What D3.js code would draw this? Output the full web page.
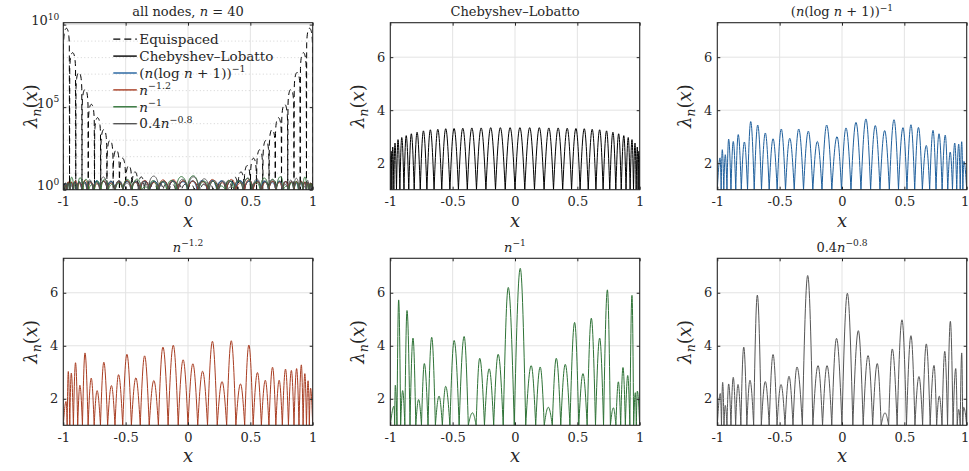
<!DOCTYPE html>
<html><head><meta charset="utf-8">
<script src="https://cdn.jsdelivr.net/npm/d3@7"></script>
<style>
body{margin:0;background:#fff}
text{fill:#262626}
svg text{font-family:"DejaVu Serif",serif;}
</style>
</head><body>
<svg id="c" width="969" height="471"></svg>
<script>
// ---------------- data ----------------
const xTicks = [-1, -0.5, 0, 0.5, 1];
const xTickLabels = ["-1", "-0.5", "0", "0.5", "1"];
const yTicks = [2, 4, 6];
const yTickLabels = ["2", "4", "6"];
const logTicks = [1, 1e5, 1e10];
const logTickExps = ["0", "5", "10"];
const logMinor = [1e1,1e2,1e3,1e4,1e6,1e7,1e8,1e9];

// Equispaced: lobe peak positions and peak heights
const equiX = [-0.975,-0.925,-0.875,-0.825,-0.775,-0.725,-0.675,-0.625,-0.575,-0.525,-0.475,-0.425,-0.375,-0.325,-0.275,-0.225,-0.175,-0.125,-0.075,-0.025,
                0.025,0.075,0.125,0.175,0.225,0.275,0.325,0.375,0.425,0.475,0.525,0.575,0.625,0.675,0.725,0.775,0.825,0.875,0.925,0.975];
const equiY = [6.0e9,2.0e8,1.26e7,1.2e6,1.48e5,2.3e4,4.4e3,980,263,81,29,12,6.0,3.7,2.8,2.4,2.24,2.14,2.09,2.09,
               2.09,2.09,2.14,2.24,2.4,2.8,3.7,6.0,12,29,81,263,980,4.4e3,2.3e4,1.48e5,1.2e6,1.26e7,2.0e8,6.0e9];

// Chebyshev-Lobatto
const chebX = [-0.99923,-0.99307,-0.98079,-0.96246,-0.93819,-0.90814,-0.87250,-0.83147,-0.78531,-0.73432,-0.67880,-0.61909,-0.55557,-0.48862,-0.41866,-0.34612,-0.27144,-0.19509,-0.11754,-0.03926,
                0.03926,0.11754,0.19509,0.27144,0.34612,0.41866,0.48862,0.55557,0.61909,0.67880,0.73432,0.78531,0.83147,0.87250,0.90814,0.93819,0.96246,0.98079,0.99307,0.99923];
const chebY = [2.26,2.45,2.61,2.76,2.89,2.97,3.04,3.11,3.17,3.22,3.26,3.28,3.30,3.31,3.32,3.33,3.33,3.34,3.34,3.34,
               3.34,3.34,3.34,3.33,3.33,3.32,3.31,3.30,3.28,3.26,3.22,3.17,3.11,3.04,2.97,2.89,2.76,2.61,2.45,2.26];

// (n(log n + 1))^-1 perturbation
const blueX = [-0.978,-0.960,-0.936,-0.909,-0.872,-0.832,-0.783,-0.732,-0.676,-0.615,-0.553,-0.487,-0.419,-0.347,-0.270,-0.198,-0.123,-0.040,
                0.032,0.112,0.192,0.267,0.342,0.417,0.489,0.553,0.613,0.676,0.730,0.778,0.828,0.868,0.904,0.936,0.960,0.978];
const blueY = [2.20,2.51,2.32,2.91,2.82,3.08,2.80,3.57,3.44,3.14,2.92,3.29,2.94,3.29,3.21,2.82,3.44,3.00,
               3.33,3.54,3.67,3.42,3.23,3.64,3.34,3.45,3.35,2.67,3.24,3.11,3.06,2.42,2.76,2.72,2.81,2.07];

// n^-1.2 perturbation
const redX = [-0.978,-0.960,-0.936,-0.902,-0.867,-0.826,-0.776,-0.729,-0.675,-0.614,-0.557,-0.490,-0.418,-0.348,-0.274,-0.201,-0.118,-0.039,
               0.039,0.117,0.196,0.273,0.347,0.421,0.488,0.557,0.620,0.678,0.731,0.782,0.829,0.871,0.909,0.937,0.963,0.983];
const redY = [1.90,3.03,2.97,3.36,2.51,3.73,2.78,2.31,3.38,2.50,2.91,3.68,2.79,3.62,2.69,3.95,4.02,3.47,
              3.32,3.04,4.17,2.65,4.19,2.56,4.03,2.99,2.70,3.19,2.70,3.12,3.07,3.14,3.28,2.95,2.68,2.40];

// n^-1 perturbation
const greenX = [-0.970,-0.960,-0.933,-0.901,-0.866,-0.818,-0.773,-0.727,-0.668,-0.609,-0.556,-0.488,-0.408,-0.341,-0.283,-0.207,-0.135,-0.054,
                 0.042,0.130,0.202,0.267,0.331,0.403,0.478,0.545,0.612,0.679,0.741,0.789,0.829,0.866,0.904,0.938,0.965,0.981];
const greenY = [1.72,2.51,5.73,2.31,5.33,4.29,1.97,3.33,4.32,2.10,2.47,4.20,4.35,1.47,3.53,3.13,3.68,6.20,
                6.92,3.25,3.20,1.68,3.53,3.30,4.88,2.95,5.04,4.29,6.11,1.66,2.64,3.18,2.88,5.90,2.23,2.29];

// 0.4 n^-0.8 perturbation
const grayX = [-0.976,-0.957,-0.936,-0.909,-0.872,-0.834,-0.788,-0.738,-0.679,-0.615,-0.553,-0.489,-0.425,-0.361,-0.275,-0.192,-0.120,-0.044,
                0.043,0.131,0.209,0.283,0.345,0.403,0.481,0.553,0.617,0.676,0.738,0.780,0.824,0.869,0.912,0.936,0.960,0.976];
const grayY = [2.20,2.62,1.75,2.56,2.81,2.54,3.95,2.70,5.91,2.65,3.67,2.54,2.85,3.20,6.65,3.25,3.25,4.28,
               5.98,4.57,3.63,3.33,1.47,3.88,4.98,4.38,2.84,4.07,3.26,2.10,3.79,4.92,3.14,1.60,3.73,1.68];

const colors = {equi:"#000000", cheb:"#000000", blue:"#1f5f9c", red:"#a83d22", green:"#2e7236", gray:"#555555"};

// ---------------- layout ----------------
const svg = d3.select("#c");
const colL = [63.3, 390.3, 717.3], PW = 249.4;
const rowT = [22.7, 258.3], PH = 167;
const FONT = 13;

function lobePoints(xs, ys){
  const pts = [], S = 14, n = xs.length;
  for(let i=0;i<n;i++){
    const a = i===0 ? -1 : (xs[i-1]+xs[i])/2;
    const b = i===n-1 ? 1 : (xs[i]+xs[i+1])/2;
    const p = xs[i], v = ys[i];
    for(let k=0;k<=S;k++){const t=k/S; pts.push([a+(p-a)*t, 1+(v-1)*Math.sin(t*Math.PI/2)]);}
    for(let k=1;k<=S;k++){const t=k/S; pts.push([p+(b-p)*t, 1+(v-1)*Math.cos(t*Math.PI/2)]);}
  }
  return pts;
}

function addMath(sel, parts, size){
  let shift = 0;
  parts.forEach(([t, s])=>{
    const ts = sel.append("tspan").text(t);
    let target = 0, fs = size;
    if(s.startsWith("sup")){ target = -0.42*size; fs = size*0.7; }
    if(s.startsWith("sub")){ target = 0.22*size; fs = size*0.7; }
    ts.attr("font-size", fs).attr("dy", target - shift);
    shift = target;
    if(s === "i" || s.endsWith("i")) ts.attr("font-style","italic");
  });
}

const panels = [
  {c:0, r:0, log:true, title:[["all nodes, ",""],["n","i"],[" = 40",""]],
   series:[["equi",equiX,equiY,true],["cheb",chebX,chebY],["blue",blueX,blueY],["red",redX,redY],["green",greenX,greenY],["gray",grayX,grayY]]},
  {c:1, r:0, title:[["Chebyshev–Lobatto",""]], series:[["cheb",chebX,chebY]]},
  {c:2, r:0, title:[["(",""],["n","i"],["(log ",""],["n","i"],[" + 1))",""],["−1","sup"]], series:[["blue",blueX,blueY]]},
  {c:0, r:1, title:[["n","i"],["−1.2","sup"]], series:[["red",redX,redY]]},
  {c:1, r:1, title:[["n","i"],["−1","sup"]], series:[["green",greenX,greenY]]},
  {c:2, r:1, title:[["0.4",""],["n","i"],["−0.8","sup"]], series:[["gray",grayX,grayY]]}
];

panels.forEach((P, idx)=>{
  const L = colL[P.c], T = rowT[P.r];
  const g = svg.append("g").attr("transform",`translate(${L},${T})`);
  const x = d3.scaleLinear().domain([-1,1]).range([0,PW]);
  const y = P.log ? d3.scaleLog().domain([1, Math.pow(10,10.115)]).range([PH,0])
                  : d3.scaleLinear().domain([1,7.3]).range([PH,0]);

  // grid
  const grid = g.append("g");
  grid.selectAll(".gx").data(xTicks.slice(1,-1)).enter().append("line")
    .attr("x1",d=>x(d)).attr("x2",d=>x(d)).attr("y1",0).attr("y2",PH)
    .attr("stroke","#e3e3e3").attr("stroke-width",1);
  const gy = P.log ? logTicks : yTicks;
  grid.selectAll(".gy").data(gy).enter().append("line")
    .attr("x1",0).attr("x2",PW).attr("y1",d=>y(d)).attr("y2",d=>y(d))
    .attr("stroke","#e3e3e3").attr("stroke-width",1);
  if(P.log){
    grid.selectAll(".gm").data(logMinor).enter().append("line")
      .attr("x1",0).attr("x2",PW).attr("y1",d=>y(d)).attr("y2",d=>y(d))
      .attr("stroke","#c8c8c8").attr("stroke-width",0.8).attr("stroke-dasharray","1,2.5");
  }

  // curves
  const cid = "clip"+idx;
  g.append("clipPath").attr("id",cid).append("rect").attr("width",PW).attr("height",PH);
  const plot = g.append("g").attr("clip-path",`url(#${cid})`);
  const line = d3.line().x(d=>x(d[0])).y(d=>y(d[1]));
  P.series.forEach(([key, xs, ys, dashed])=>{
    plot.append("path").datum(lobePoints(xs, ys))
      .attr("d", line).attr("fill","none")
      .attr("stroke", colors[key]).attr("stroke-width", 1)
      .attr("stroke-dasharray", dashed ? "6,4" : null);
  });

  // axes
  const ax = g.append("g").attr("transform",`translate(0,${PH})`)
    .call(d3.axisBottom(x).tickValues(xTicks).tickFormat((d,i)=>xTickLabels[i]).tickSize(-3).tickSizeOuter(0).tickPadding(7));
  if(P.c === 2) ax.selectAll(".tick").filter(d=>d===1).select("text").attr("dx",-2);
  const axT = g.append("g").call(d3.axisTop(x).tickValues(xTicks).tickFormat("").tickSize(-3).tickSizeOuter(0));
  let ay, ayR;
  if(P.log){
    ay = g.append("g").call(d3.axisLeft(y).tickValues(logTicks).tickFormat("").tickSize(-3).tickSizeOuter(0));
    ay.selectAll(".tick").each(function(d,i){
      const t = d3.select(this).append("text").attr("x",-4).attr("dy","0.32em")
        .attr("text-anchor","end").attr("font-size",FONT);
      addMath(t, [["10",""],[logTickExps[i],"sup"]], FONT);
    });
    ayR = g.append("g").attr("transform",`translate(${PW},0)`).call(d3.axisRight(y).tickValues(logTicks).tickFormat("").tickSize(-3).tickSizeOuter(0));
  } else {
    ay = g.append("g").call(d3.axisLeft(y).tickValues(yTicks).tickFormat((d,i)=>yTickLabels[i]).tickSize(-3).tickSizeOuter(0).tickPadding(5));
    ayR = g.append("g").attr("transform",`translate(${PW},0)`).call(d3.axisRight(y).tickValues(yTicks).tickFormat("").tickSize(-3).tickSizeOuter(0));
  }
  [ax,axT,ay,ayR].forEach(a=>{
    a.attr("font-family", null);
    a.select(".domain").remove();
    a.selectAll("line").attr("stroke","#262626");
    a.selectAll("text").attr("font-size",FONT).attr("fill","#262626");
  });
  // frame
  g.append("rect").attr("width",PW).attr("height",PH).attr("fill","none")
    .attr("stroke","#262626").attr("stroke-width",1.1);

  // title
  const tt = g.append("text").attr("x",PW/2).attr("y",-6.5).attr("text-anchor","middle").attr("font-size",13);
  addMath(tt, P.title, 13);
  // x label
  g.append("text").attr("x",PW/2).attr("y",PH+37).attr("text-anchor","middle")
    .attr("font-size",18).attr("font-style","italic").text("x");
  // y label
  const yl = g.append("text").attr("transform",`translate(-26,${PH/2}) rotate(-90)`)
    .attr("text-anchor","middle").attr("font-size",18);
  addMath(yl, [["λ","i"],["n","subi"],["(",""],["x","i"],[")",""]], 18);

  // legend
  if(P.log){
    const items = [
      ["equi", true, [["Equispaced",""]]],
      ["cheb", false, [["Chebyshev–Lobatto",""]]],
      ["blue", false, [["(",""],["n","i"],["(log ",""],["n","i"],[" + 1))",""],["−1","sup"]]],
      ["red", false, [["n","i"],["−1.2","sup"]]],
      ["green", false, [["n","i"],["−1","sup"]]],
      ["gray", false, [["0.4",""],["n","i"],["−0.8","sup"]]]
    ];
    const lg = g.append("g");
    items.forEach(([key, dashed, parts], i)=>{
      const yy = 16.5 + i*16.9;
      lg.append("line").attr("x1",50).attr("x2",73.5).attr("y1",yy).attr("y2",yy)
        .attr("stroke",colors[key]).attr("stroke-width", dashed?1.2:1.4)
        .attr("stroke-dasharray", dashed ? "7,4" : null);
      const t = lg.append("text").attr("x",76).attr("y",yy+4.8).attr("font-size",13.5);
      addMath(t, parts, 13.5);
    });
  }
});
</script>
</body></html>
